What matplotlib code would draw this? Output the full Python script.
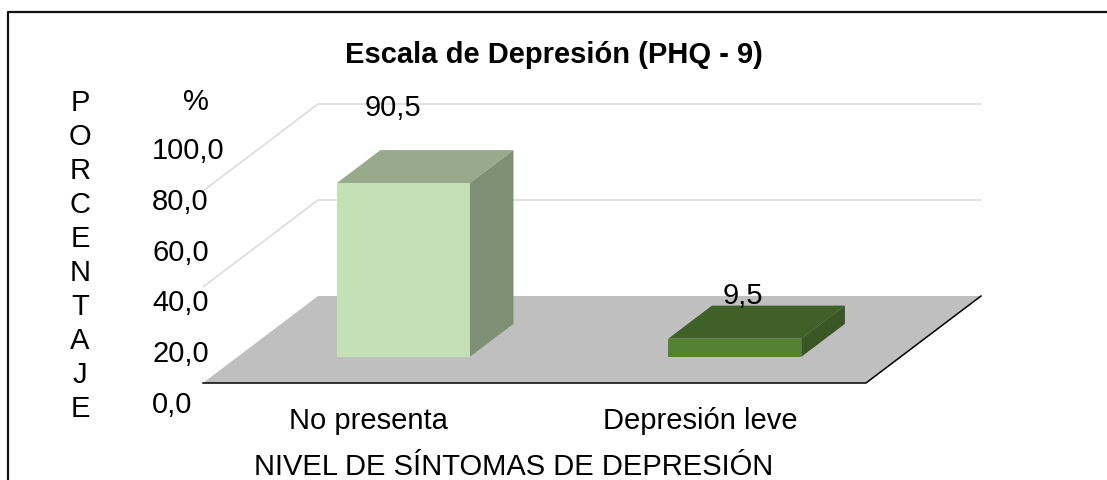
import matplotlib
matplotlib.use('Agg')
import matplotlib.pyplot as plt
from matplotlib.patches import Polygon

categories = ['No presenta', 'Depresión leve']
values = [90.5, 9.5]
value_labels = ['90,5', '9,5']
ytick_labels = ['100,0', '80,0', '60,0', '40,0', '20,0', '0,0']
grid_values = [50, 100]

front_colors = ['#C5E0B4', '#548235']
top_colors = ['#97AB8C', '#3F6128']
side_colors = ['#7F8F74', '#385723']

W, H = 1107, 481
CAT_PX = 331.5      # pixels per category
VAL_PX = 1.92       # pixels per percent
LEFT_PX = 203       # front left corner of the floor
FLOOR_PX = 384
DX = 115 / CAT_PX   # full depth, in category units
DY = 87 / VAL_PX    # full depth, in value units
BAR_W = 133 / CAT_PX

plt.rcParams['font.family'] = ['Liberation Sans', 'DejaVu Sans']

fig = plt.figure(figsize=(W / 100, H / 100), dpi=100)
ax = fig.add_axes([0, 0, 1, 1])
ax.set_xlim(-0.5 - LEFT_PX / CAT_PX, -0.5 + (W - LEFT_PX) / CAT_PX)
ax.set_ylim((FLOOR_PX - H) / VAL_PX, FLOOR_PX / VAL_PX)
ax.axis('off')


def pt(c, v, d=0.0):
    # oblique projection: d goes from 0 (front) to 1 (back wall)
    return (c + d * DX, v + d * DY)


def px(x, y):
    return x / W, 1 - y / H


def bar3d(c, v, front, top, side, d0=0.30, d1=0.68):
    l, r = c - BAR_W / 2, c + BAR_W / 2
    ax.add_patch(Polygon([pt(l, v, d0), pt(r, v, d0), pt(r, v, d1), pt(l, v, d1)], fc=top, ec='none', zorder=3))
    ax.add_patch(Polygon([pt(r, 0, d0), pt(r, 0, d1), pt(r, v, d1), pt(r, v, d0)], fc=side, ec='none', zorder=3))
    ax.add_patch(Polygon([pt(l, 0, d0), pt(r, 0, d0), pt(r, v, d0), pt(l, v, d0)], fc=front, ec='none', zorder=4))


x0, x1 = -0.5, len(categories) - 0.5

# gridlines on the back and side walls
for g in grid_values:
    xs = [pt(x0, g)[0], pt(x0, g, 1)[0], pt(x1, g, 1)[0]]
    ys = [pt(x0, g)[1], pt(x0, g, 1)[1], pt(x1, g, 1)[1]]
    ax.plot(xs, ys, color='#D9D9D9', lw=1.1, zorder=1, solid_capstyle='butt')

# floor
ax.add_patch(Polygon([pt(x0, 0), pt(x1, 0), pt(x1, 0, 1), pt(x0, 0, 1)], fc='#BFBFBF', ec='none', zorder=2))
ax.plot([pt(x0, 0)[0], pt(x1, 0)[0], pt(x1, 0, 1)[0]], [pt(x0, 0)[1], pt(x1, 0)[1], pt(x1, 0, 1)[1]],
        color='black', lw=1.1, zorder=2.5)

for i, v in enumerate(values):
    bar3d(i, v, front_colors[i], top_colors[i], side_colors[i])

FS = 21

# data labels
for lab, (lx, ly) in zip(value_labels, [(393, 108), (743, 296)]):
    fig.text(*px(lx, ly), lab, fontsize=FS, ha='center', va='center', zorder=6)

# category labels
for i, cat in enumerate(categories):
    ax.text(i, (FLOOR_PX - 421) / VAL_PX, cat, fontsize=FS, ha='center', va='center')

# y tick labels, evenly spaced but not lined up with the walls
for i, lab in enumerate(ytick_labels):
    fig.text(*px(152, 151 + i * 50.8), lab, fontsize=FS, ha='left', va='center')

fig.text(*px(196, 102), '%', fontsize=FS, ha='center', va='center')
fig.text(*px(80, 256), '\n'.join('PORCENTAJE'), fontsize=FS, ha='center', va='center', linespacing=1.27)
fig.text(*px(514, 467), 'NIVEL DE SÍNTOMAS DE DEPRESIÓN', fontsize=FS, ha='center', va='center')
fig.text(*px(554, 55), 'Escala de Depresión (PHQ - 9)', fontsize=FS, fontweight='bold', ha='center', va='center')

# frame, only top and left edges are visible in the crop
fig.add_artist(plt.Line2D([8 / W, 8 / W, 1], [0, 1 - 13 / H, 1 - 13 / H], color='#111111', lw=1.6))

fig.savefig('out.png', dpi=100)
